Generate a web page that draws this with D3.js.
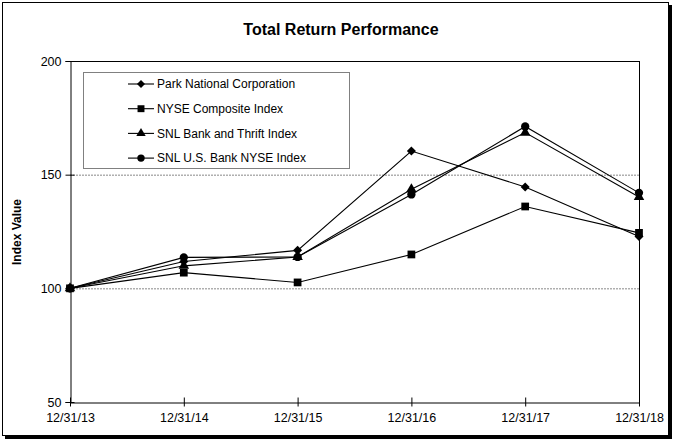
<!DOCTYPE html>
<html><head><meta charset="utf-8">
<script src="https://cdn.jsdelivr.net/npm/d3@7"></script>
<style>body{margin:0;background:#fff;}svg{display:block;font-family:Arial,"Liberation Sans",sans-serif;}</style>
</head><body><svg id="c" width="675" height="443"></svg>
<script>
const categories = ["12/31/13","12/31/14","12/31/15","12/31/16","12/31/17","12/31/18"];
const parkNational = [100, 111.8, 116.7, 160.4, 144.6, 122.8];
const nyseComposite = [100, 106.9, 102.6, 114.9, 136.0, 124.4];
const snlBankThrift = [100, 109.9, 113.8, 143.6, 168.5, 140.2];
const snlUSBankNYSE = [100, 113.6, 113.8, 141.3, 171.2, 142.0];
const seriesNames = ["Park National Corporation","NYSE Composite Index","SNL Bank and Thrift Index","SNL U.S. Bank NYSE Index"];
const yTicks = [50, 100, 150, 200];

const series = [
  {name: seriesNames[0], values: parkNational, sym: d3.symbolDiamond2, size: 52},
  {name: seriesNames[1], values: nyseComposite, sym: d3.symbolSquare, size: 60},
  {name: seriesNames[2], values: snlBankThrift, sym: d3.symbolTriangle, size: 48},
  {name: seriesNames[3], values: snlUSBankNYSE, sym: d3.symbolCircle, size: 54}
];

const svg = d3.select("#c");
// outer frame with shadow
svg.append("rect").attr("x",5).attr("y",5).attr("width",667).attr("height",434).attr("fill","#000");
svg.append("rect").attr("x",2.5).attr("y",2.5).attr("width",666).attr("height",433).attr("fill","#fff").attr("stroke","#000").attr("stroke-width",1);

const L = 70, R = 639, T = 61, B = 402;
const x = d3.scalePoint().domain(categories).range([L, R]);
const y = d3.scaleLinear().domain([50, 200]).range([B, T]);

// title
svg.append("text").attr("x",341).attr("y",35).attr("text-anchor","middle")
  .attr("font-size",16).attr("font-weight","bold").text("Total Return Performance");

// gridlines
svg.append("g").selectAll("line").data([100,150]).join("line")
  .attr("x1",L).attr("x2",R).attr("y1",d=>y(d)+0.5).attr("y2",d=>y(d)+0.5)
  .attr("stroke","#888").attr("stroke-dasharray","2,1");
// top and right border
svg.append("line").attr("x1",L).attr("x2",R).attr("y1",T+0.5).attr("y2",T+0.5).attr("stroke","#000");
svg.append("line").attr("x1",R+0.5).attr("x2",R+0.5).attr("y1",T).attr("y2",B).attr("stroke","#000");

// axes
const yAxis = d3.axisLeft(y).tickValues(yTicks).tickSize(5).tickPadding(4);
const gy = svg.append("g").attr("transform",`translate(${L+0.5},0)`).call(yAxis);
const xAxis = d3.axisBottom(x).tickSize(0).tickPadding(11);
const gx = svg.append("g").attr("transform",`translate(0,${B+0.5})`).call(xAxis);
[gx, gy].forEach(g=>{
  g.selectAll("text").attr("font-size",12.5).attr("font-family","Arial,'Liberation Sans',sans-serif").attr("fill","#000");
  g.select(".domain").attr("stroke","#000");
  g.selectAll("line").attr("stroke","#000");
});
gy.selectAll(".tick line").attr("x1",-5).attr("x2",4);
gx.selectAll(".tick").append("line").attr("y1",-5).attr("y2",4).attr("stroke","#000");

// y label
svg.append("text").attr("transform",`translate(21,232) rotate(-90)`).attr("text-anchor","middle")
  .attr("font-size",12).attr("font-weight","bold").text("Index Value");

// lines
const line = d3.line().x((d,i)=>x(categories[i])).y(d=>y(d));
series.forEach(s=>{
  svg.append("path").datum(s.values).attr("d",line).attr("fill","none").attr("stroke","#000").attr("stroke-width",1.1);
});
series.forEach(s=>{
  svg.append("g").selectAll("path").data(s.values).join("path")
    .attr("transform",(d,i)=>`translate(${x(categories[i])},${y(d)})`)
    .attr("d",d3.symbol().type(s.sym).size(s.size)).attr("fill","#000");
});

// legend
const lg = svg.append("g");
lg.append("rect").attr("x",83.5).attr("y",72.5).attr("width",266).attr("height",96).attr("fill","#fff").attr("stroke","#808080");
series.forEach((s,i)=>{
  const yy = 84 + i*24.7;
  lg.append("line").attr("x1",128).attr("x2",154).attr("y1",yy).attr("y2",yy).attr("stroke","#000").attr("stroke-width",1.1);
  lg.append("path").attr("transform",`translate(141,${yy})`).attr("d",d3.symbol().type(s.sym).size(s.size*0.8)).attr("fill","#000");
  lg.append("text").attr("x",157).attr("y",yy).attr("dy","0.35em").attr("font-size",12).text(s.name);
});
</script></body></html>
